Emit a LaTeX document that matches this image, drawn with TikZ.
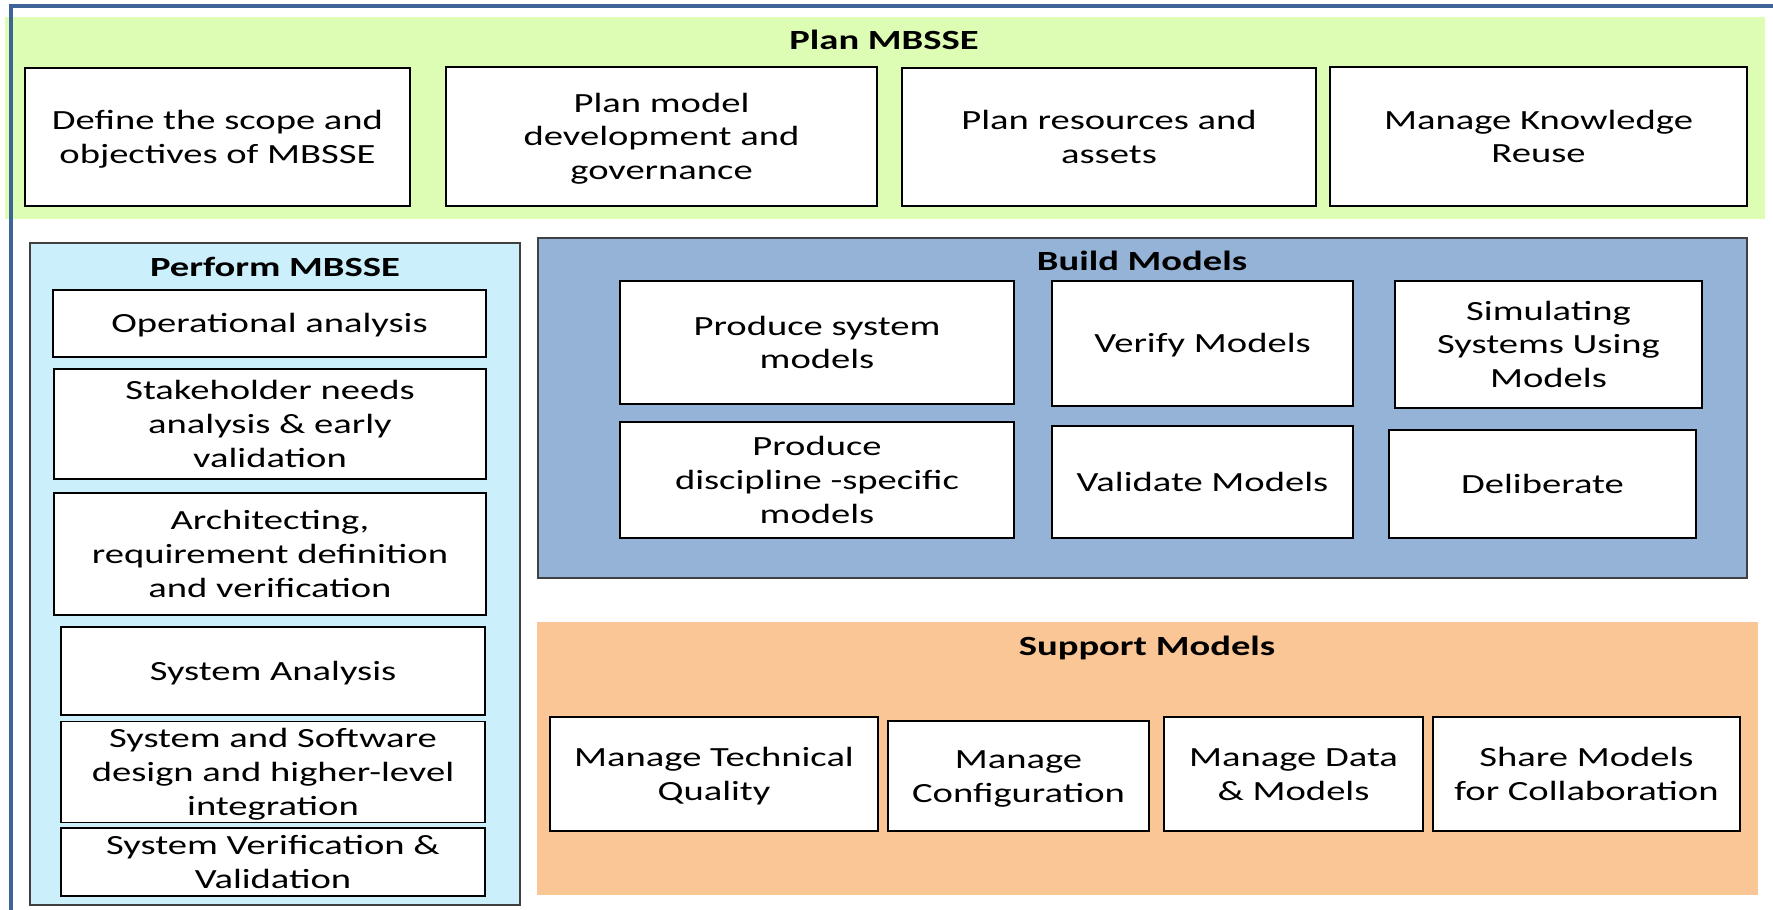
\documentclass[tikz,border=0pt]{standalone}
\usepackage{fontspec}
\setmainfont{Carlito}[FakeStretch=1.39]
\newcommand\boxfont{\fontsize{7.9}{9.6}\selectfont}
\newcommand\boxstrut{\rule{0pt}{7.5pt}}
\definecolor{planarea}{HTML}{DDFCB4}
\definecolor{performarea}{HTML}{CCEFFC}
\definecolor{buildarea}{HTML}{95B3D7}
\definecolor{supportarea}{HTML}{FBC695}
\definecolor{frameblue}{HTML}{3E6396}
\begin{document}
\begin{tikzpicture}[
  every node/.append style={font=\boxfont},
  box/.style={draw=black, line width=0.5pt, fill=white, align=center, inner sep=0pt,
    execute at end node={\rule[-2.1pt]{0pt}{0pt}}},
  area/.style={inner sep=0pt, line width=0.6pt},
  title/.style={font=\boxfont\bfseries, anchor=base, inner sep=0pt},
  frameline/.style={draw=frameblue, line width=1.3pt}]
\useasboundingbox (0,0) rectangle (17.73,-9.10);
\node[area, fill=planarea, minimum width=17.60cm, minimum height=2.02cm] (plan) at (8.85,-1.18) {};
\draw[frameline] (0.11,-9.10) |- (17.73,-0.06);
\node[title] (plantitle) at (8.84,-0.50) {Plan MBSSE};
\node[box, minimum width=3.85cm, minimum height=1.38cm] (scope) at (2.175,-1.37) {\boxstrut Define the scope and\\objectives of MBSSE};
\node[box, minimum width=4.31cm, minimum height=1.39cm] (governance) at (6.615,-1.365) {\boxstrut Plan model\\development and\\governance};
\node[box, minimum width=4.14cm, minimum height=1.38cm] (resources) at (11.09,-1.37) {\boxstrut Plan resources and\\assets};
\node[box, minimum width=4.17cm, minimum height=1.39cm] (reuse) at (15.385,-1.365) {\boxstrut Manage Knowledge\\Reuse};

\node[area, draw=black!75, fill=performarea, minimum width=4.90cm, minimum height=6.62cm] (perform) at (2.75,-5.74) {};
\node[title] (performtitle) at (2.75,-2.77) {Perform MBSSE};
\node[box, minimum width=4.33cm, minimum height=0.67cm] (operational) at (2.695,-3.235) {\boxstrut Operational analysis};
\node[box, minimum width=4.32cm, minimum height=1.10cm] (stakeholder) at (2.70,-4.24) {\boxstrut Stakeholder needs\\analysis \& early\\validation};
\node[box, minimum width=4.32cm, minimum height=1.22cm] (architecting) at (2.70,-5.54) {\boxstrut Architecting,\\requirement definition\\and verification};
\node[box, minimum width=4.24cm, minimum height=0.88cm] (sysanalysis) at (2.73,-6.71) {\boxstrut System Analysis};
\node[box, minimum width=4.24cm, minimum height=0.94cm] (swdesign) at (2.73,-7.72) {\boxstrut System and Software\\design and higher-level\\integration};
\node[box, minimum width=4.24cm, minimum height=0.66cm] (sysvv) at (2.73,-8.62) {\boxstrut System Verification \&\\Validation};

\node[area, draw=black!75, fill=buildarea, minimum width=12.09cm, minimum height=3.40cm] (build) at (11.425,-4.08) {};
\node[title] (buildtitle) at (11.42,-2.71) {Build Models};
\node[box, minimum width=3.94cm, minimum height=1.23cm] (prodsystem) at (8.17,-3.425) {\boxstrut Produce system\\models};
\node[box, minimum width=3.01cm, minimum height=1.25cm] (verify) at (12.025,-3.435) {\boxstrut Verify Models};
\node[box, minimum width=3.07cm, minimum height=1.27cm] (simulate) at (15.485,-3.445) {\boxstrut Simulating\\Systems Using\\Models};
\node[box, minimum width=3.94cm, minimum height=1.16cm] (proddiscipline) at (8.17,-4.80) {\boxstrut Produce\\discipline -specific\\models};
\node[box, minimum width=3.01cm, minimum height=1.12cm] (validate) at (12.025,-4.82) {\boxstrut Validate Models};
\node[box, minimum width=3.07cm, minimum height=1.08cm] (deliberate) at (15.425,-4.84) {\boxstrut Deliberate};

\node[area, fill=supportarea, minimum width=12.21cm, minimum height=2.73cm] (support) at (11.475,-7.585) {};
\node[title] (supporttitle) at (11.47,-6.55) {Support Models};
\node[box, minimum width=3.28cm, minimum height=1.14cm] (quality) at (7.14,-7.74) {\boxstrut Manage Technical\\Quality};
\node[box, minimum width=2.61cm, minimum height=1.10cm] (config) at (10.185,-7.76) {\boxstrut Manage\\Configuration};
\node[box, minimum width=2.59cm, minimum height=1.14cm] (datamodels) at (12.935,-7.74) {\boxstrut Manage Data\\\& Models};
\node[box, minimum width=3.07cm, minimum height=1.14cm] (share) at (15.865,-7.74) {\boxstrut Share Models\\for Collaboration};
\end{tikzpicture}
\end{document}
